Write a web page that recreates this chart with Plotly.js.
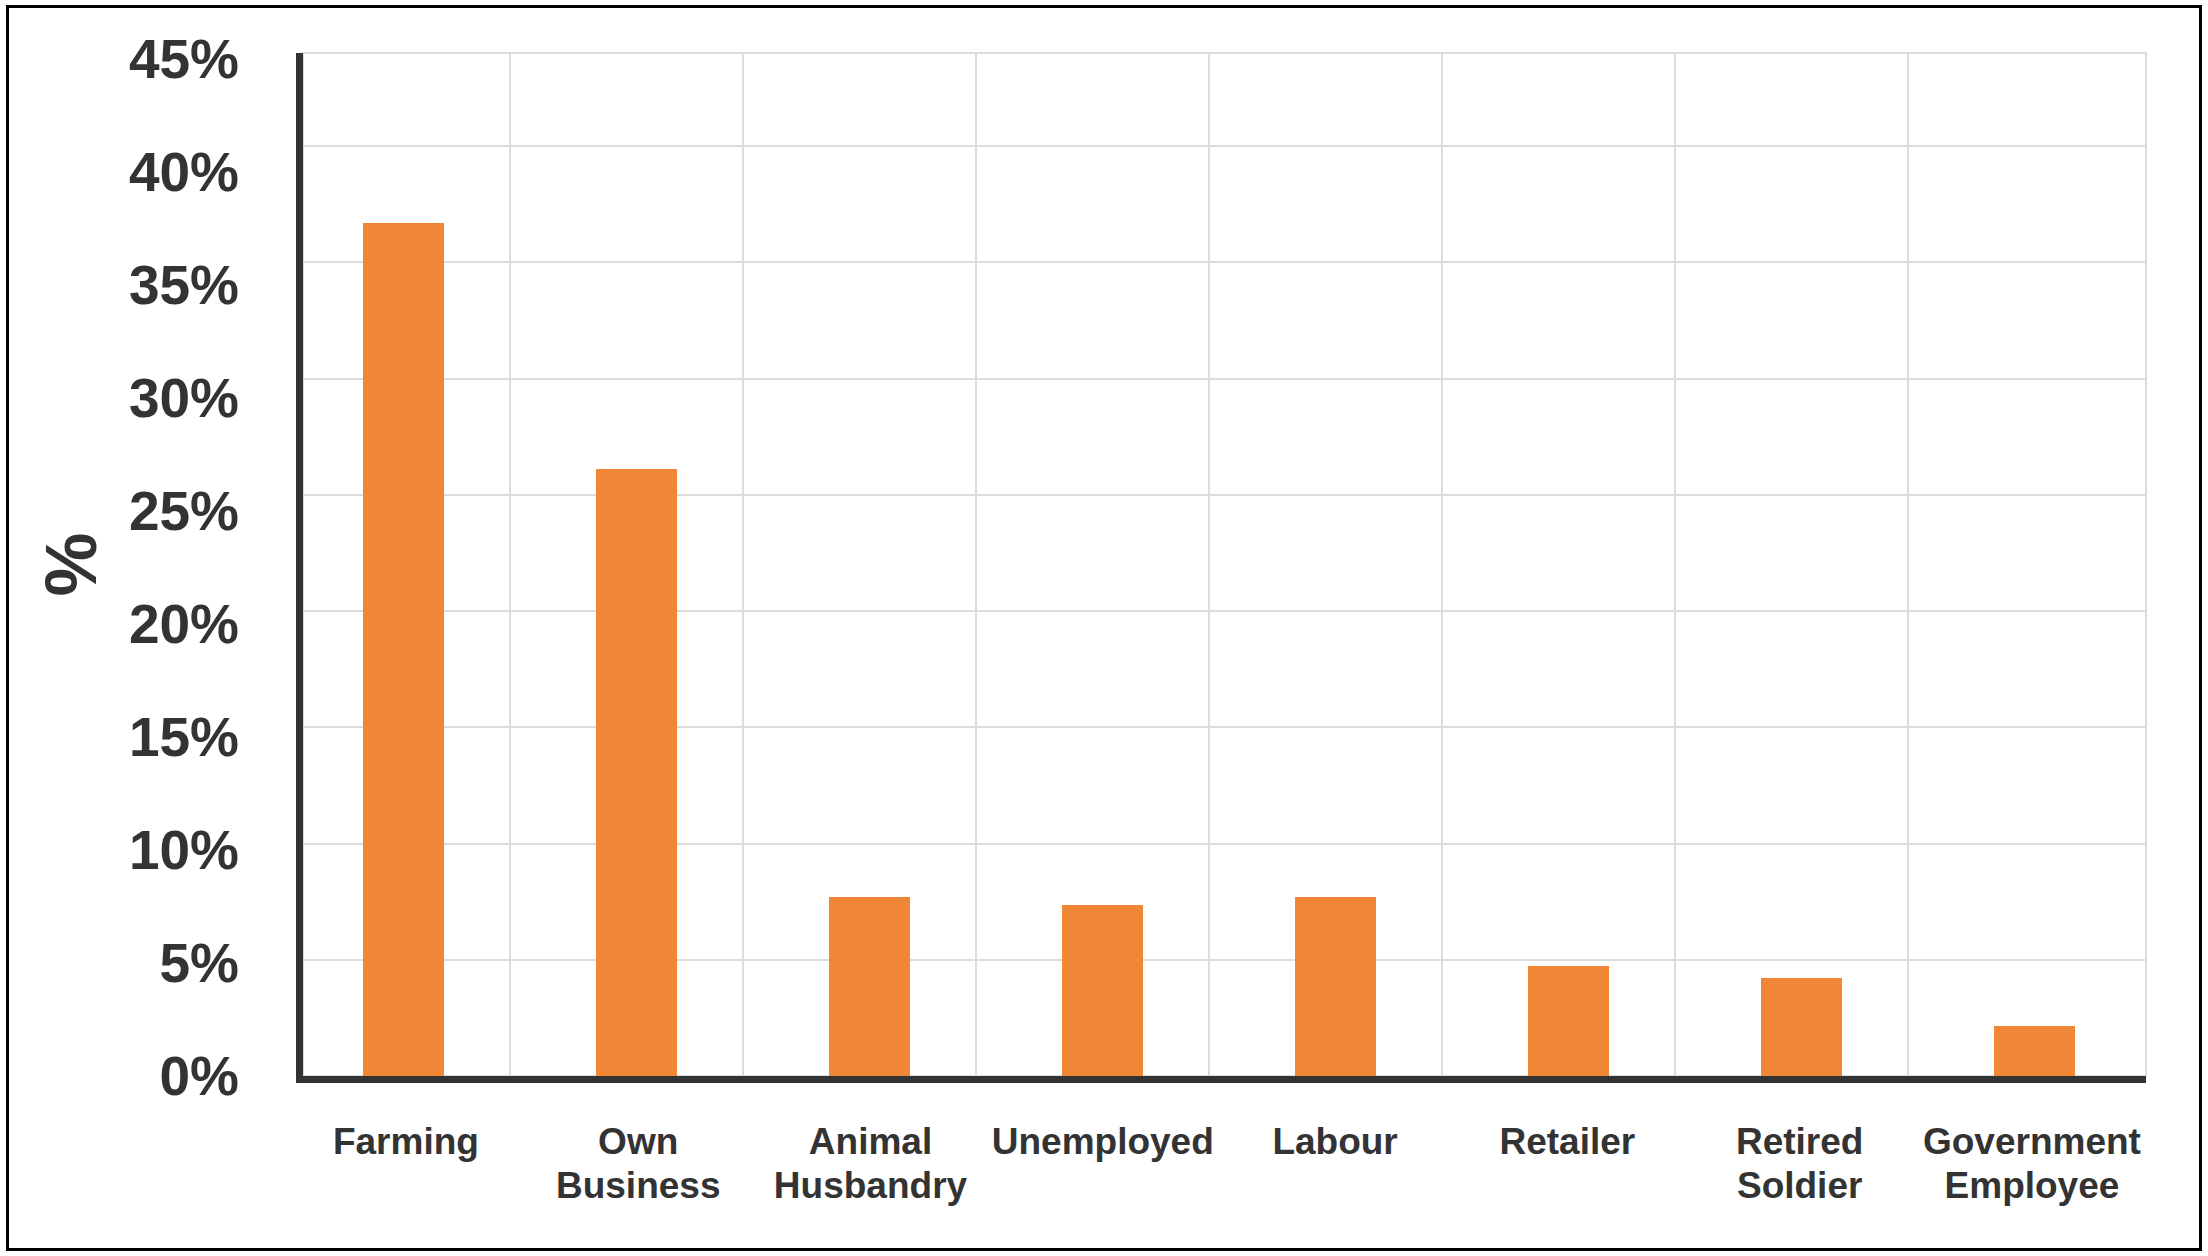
<!DOCTYPE html>
<html>
<head>
<meta charset="utf-8">
<script src="https://cdn.plot.ly/plotly-3.0.1.min.js"></script>
<style>
  html, body { margin: 0; padding: 0; background: #ffffff; }
  #chart { position: absolute; left: 0; top: 0; width: 2208px; height: 1256px; }
  #frame { position: absolute; left: 6px; top: 5px; width: 2196px; height: 1246px;
           box-sizing: border-box; border: 3px solid #000; pointer-events: none; }
</style>
</head>
<body>
<div id="chart"></div>
<div id="frame"></div>
<script>
// ---- data ----
const categories = ["Farming", "Own<br>Business", "Animal<br>Husbandry", "Unemployed",
                    "Labour", "Retailer", "Retired<br>Soldier", "Government<br>Employee"];
const shares = [36.7, 26.1, 7.7, 7.35, 7.7, 4.75, 4.2, 2.15];
const yTickValues = [0, 5, 10, 15, 20, 25, 30, 35, 40, 45];
const yTickLabels = ["0%", "5%", "10%", "15%", "20%", "25%", "30%", "35%", "40%", "45%"];

const idx = categories.map((c, i) => i);
const labelLine1 = categories.map(c => c.split("<br>")[0]);
const labelLine2 = categories.map(c => c.split("<br>")[1] || "");
const darkText = "#333333";
const fontFam = "Liberation Sans, Arial, sans-serif";

const bars = {
  type: "bar",
  x: idx,
  y: shares,
  customdata: categories.map(c => c.replace("<br>", " ")),
  hovertemplate: "%{customdata}: %{y}%<extra></extra>",
  width: 0.348,
  marker: { color: "#F08736", line: { width: 0 } },
  showlegend: false
};

// invisible helper traces so the label axes are built
const helper2 = {
  type: "scatter", mode: "markers", x: [idx[0]], y: [0],
  xaxis: "x2", yaxis: "y2",
  marker: { opacity: 0 }, hoverinfo: "skip", showlegend: false
};
const helper3 = {
  type: "scatter", mode: "markers", x: [idx[0]], y: [0],
  xaxis: "x3", yaxis: "y2",
  marker: { opacity: 0 }, hoverinfo: "skip", showlegend: false
};

const labelAxis = (vals, texts, len) => ({
  type: "linear",
  overlaying: "x", anchor: "y2", side: "bottom",
  range: [-0.443, 7.491],
  tickmode: "array",
  tickvals: vals,
  ticktext: texts,
  ticks: "outside", ticklen: len, tickcolor: "rgba(0,0,0,0)",
  tickfont: { family: fontFam, size: 37, color: darkText, weight: "bold" },
  showgrid: false, zeroline: false, showline: false,
  fixedrange: true
});

const layout = {
  width: 2208, height: 1256,
  margin: { l: 303, r: 62, t: 53, b: 180 },
  paper_bgcolor: "#ffffff", plot_bgcolor: "#ffffff",
  bargap: 0,
  xaxis: {
    type: "linear",
    range: [-0.431, 7.479],
    tickmode: "array",
    tickvals: idx.slice(0, 7).map(i => i + 0.457),
    showticklabels: false,
    ticks: "",
    showgrid: true, gridcolor: "#dcdcdc", gridwidth: 2,
    zeroline: false,
    showline: true, linecolor: "#333333", linewidth: 7,
    fixedrange: true
  },
  yaxis: {
    range: [0, 44.0],
    tickmode: "array",
    tickvals: yTickValues.slice(0, 9),
    showticklabels: false,
    ticks: "",
    showgrid: true, gridcolor: "#dcdcdc", gridwidth: 2,
    zeroline: false,
    showline: true, linecolor: "#333333", linewidth: 7,
    fixedrange: true
  },
  xaxis2: labelAxis(idx, labelLine1, 33),
  xaxis3: labelAxis(idx, labelLine2, 77),
  yaxis2: {
    overlaying: "y", anchor: "x2", side: "left",
    range: [0, 45.27],
    tickmode: "array",
    tickvals: yTickValues,
    ticktext: yTickLabels,
    ticks: "outside", ticklen: 52, tickcolor: "rgba(0,0,0,0)",
    tickfont: { family: fontFam, size: 55, color: darkText, weight: "bold" },
    showgrid: false, zeroline: false, showline: false,
    fixedrange: true
  },
  shapes: [{
    type: "rect", xref: "paper", yref: "paper",
    x0: 0, x1: 1, y0: 0, y1: 1,
    line: { color: "#dcdcdc", width: 2 },
    layer: "below"
  }],
  annotations: [{
    text: "%",
    xref: "paper", yref: "paper",
    x: (70 - 303) / 1843, y: 0.5,
    xanchor: "center", yanchor: "middle",
    textangle: -90, showarrow: false,
    font: { family: fontFam, size: 72, color: darkText, weight: "bold" }
  }]
};

Plotly.newPlot("chart", [bars, helper2, helper3], layout, { displayModeBar: false, staticPlot: true });
</script>
</body>
</html>
